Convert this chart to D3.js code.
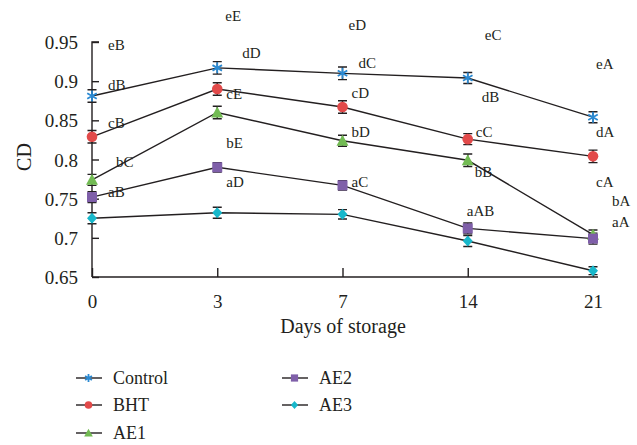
<!DOCTYPE html>
<html><head><meta charset="utf-8">
<script src="https://cdn.jsdelivr.net/npm/d3@7/dist/d3.min.js"></script>
<style>body{margin:0;background:#fff}svg{display:block}</style>
</head><body><svg id="c" width="637" height="445" font-family="'Times New Roman', 'Liberation Serif', 'DejaVu Serif', serif"></svg>
<script>
const days = ["0", "3", "7", "14", "21"];
const yTicks = [0.65, 0.7, 0.75, 0.8, 0.85, 0.9, 0.95];
const seriesNames = ["Control", "BHT", "AE1", "AE2", "AE3"];
const control = [0.881, 0.917, 0.910, 0.904, 0.854];
const bht = [0.829, 0.890, 0.867, 0.826, 0.804];
const ae1 = [0.774, 0.860, 0.824, 0.799, 0.704];
const ae2 = [0.752, 0.790, 0.767, 0.712, 0.699];
const ae3 = [0.725, 0.732, 0.730, 0.696, 0.658];
const controlErr = [0.008, 0.008, 0.008, 0.007, 0.007];
const bhtErr = [0.008, 0.008, 0.008, 0.007, 0.008];
const ae1Err = [0.007, 0.008, 0.007, 0.008, 0.006];
const ae2Err = [0.007, 0.006, 0.006, 0.007, 0.007];
const ae3Err = [0.007, 0.007, 0.006, 0.007, 0.005];
// significance letters: per day, listed top to bottom
const letters = [
  ["eB", "dB", "cB", "bC", "aB"],
  ["eE", "dD", "cE", "bE", "aD"],
  ["eD", "dC", "cD", "bD", "aC"],
  ["eC", "dB", "cC", "bB", "aAB"],
  ["eA", "dA", "cA", "bA", "aA"]
];
// letter anchor heights in CD units
const letterCD = [
  [0.946, 0.895, 0.847, 0.797, 0.759],
  [0.984, 0.936, 0.884, 0.822, 0.771],
  [0.972, 0.923, 0.885, 0.835, 0.771],
  [0.959, 0.880, 0.835, 0.785, 0.734],
  [0.922, 0.835, 0.771, 0.747, 0.721]
];

// layout (pixel nudges for letters, kept apart from data)
const letterDx = [
  [16, 16, 16, 24, 16],
  [8, 25, 9, 9, 9],
  [6, 16, 9, 9, 9],
  [17, 14, 8, 7, -1],
  [3, 3, 3, 19, 19]
];

const values = [control, bht, ae1, ae2, ae3];
const errs = [controlErr, bhtErr, ae1Err, ae2Err, ae3Err];
const colors = ["#2b8ad3", "#e24a4a", "#72bb53", "#7f5fa9", "#18b8cb"];
const shapes = ["asterisk", "circle", "triangle", "square", "diamond"];
const ink = "#231f20";

const svg = d3.select("#c");
const x = d3.scalePoint().domain(days).range([92, 593]);
const y = d3.scaleLinear().domain([0.65, 0.95]).range([277, 42]);

// axes
const gy = svg.append("g").attr("transform", "translate(92,0)")
  .call(d3.axisRight(y).tickValues(yTicks).tickSize(7).tickFormat(d => String(+d.toFixed(2))));
gy.attr("font-family", null);
gy.select(".domain").attr("d", `M7,${y(0.95)}H0V${y(0.65)}`);
gy.selectAll("line,path").attr("stroke", ink).attr("stroke-width", 1.4);
gy.selectAll("text").attr("x", -14).attr("text-anchor", "end").attr("font-size", 19).attr("dy", "0.35em").attr("fill", ink);

const gx = svg.append("g").attr("transform", `translate(0,${y(0.65)})`)
  .call(d3.axisTop(x).tickSize(9).tickFormat(d => d));
gx.attr("font-family", null);
gx.select(".domain").attr("d", `M92,0H598`);
gx.selectAll("line,path").attr("stroke", ink).attr("stroke-width", 1.4);
gx.selectAll("text").attr("y", 31).attr("dy", 0).attr("font-size", 19).attr("text-anchor", "middle").attr("fill", ink);

svg.append("text").attr("x", 343).attr("y", 333).attr("text-anchor", "middle").attr("font-size", 20).attr("fill", ink).text("Days of storage");
svg.append("text").attr("transform", "translate(31,157) rotate(-90)").attr("text-anchor", "middle").attr("font-size", 20).attr("fill", ink).text("CD");

function marker(g, shape, color, k) {
  if (shape === "asterisk") {
    const r = 5.5 * k, a = r * 0.866;
    g.append("path").attr("d", `M0,${-r}V${r}M${-a},${-r/2}L${a},${r/2}M${-a},${r/2}L${a},${-r/2}`)
      .attr("stroke", color).attr("stroke-width", 1.8).attr("fill", "none");
  } else if (shape === "circle") {
    g.append("circle").attr("r", 5.3 * k).attr("fill", color);
  } else if (shape === "triangle") {
    g.append("path").attr("d", `M0,${-6*k}L${6*k},${5*k}H${-6*k}Z`).attr("fill", color);
  } else if (shape === "square") {
    g.append("rect").attr("x", -5 * k).attr("y", -5 * k).attr("width", 10 * k).attr("height", 10 * k).attr("fill", color);
  } else {
    g.append("path").attr("d", `M0,${-5.5*k}L${5*k},0L0,${5.5*k}L${-5*k},0Z`).attr("fill", color);
  }
}

const line = d3.line().x((d, i) => x(days[i])).y(d => y(d));
values.forEach((vals, s) => {
  const g = svg.append("g");
  g.append("path").attr("d", line(vals)).attr("fill", "none").attr("stroke", ink).attr("stroke-width", 1.4);
  vals.forEach((v, i) => {
    const cx = x(days[i]), e = errs[s][i];
    g.append("path").attr("d", `M${cx},${y(v + e)}V${y(v - e)}M${cx-4.5},${y(v + e)}H${cx+4.5}M${cx-4.5},${y(v - e)}H${cx+4.5}`)
      .attr("stroke", ink).attr("stroke-width", 1.4).attr("fill", "none");
  });
});
values.forEach((vals, s) => {
  vals.forEach((v, i) => {
    const m = svg.append("g").attr("transform", `translate(${x(days[i])},${y(v)})`);
    marker(m, shapes[s], colors[s], 1);
  });
});

// letters
letters.forEach((col, i) => {
  col.forEach((t, j) => {
    svg.append("text").attr("x", x(days[i]) + letterDx[i][j]).attr("y", y(letterCD[i][j]))
      .attr("dy", "0.35em").attr("font-size", 15).attr("fill", ink).text(t);
  });
});

// legend
const legPos = [[76, 378], [76, 405], [76, 433], [282, 378], [282, 405]];
seriesNames.forEach((n, s) => {
  const [lx, ly] = legPos[s];
  const g = svg.append("g").attr("transform", `translate(${lx},${ly})`);
  g.append("line").attr("x1", 0).attr("x2", 26).attr("stroke", ink).attr("stroke-width", 1.4);
  const m = g.append("g").attr("transform", "translate(12.5,0)");
  marker(m, shapes[s], colors[s], 0.72);
  g.append("text").attr("x", 37).attr("dy", "0.35em").attr("font-size", 18).attr("fill", ink).text(n);
});
</script></body></html>
